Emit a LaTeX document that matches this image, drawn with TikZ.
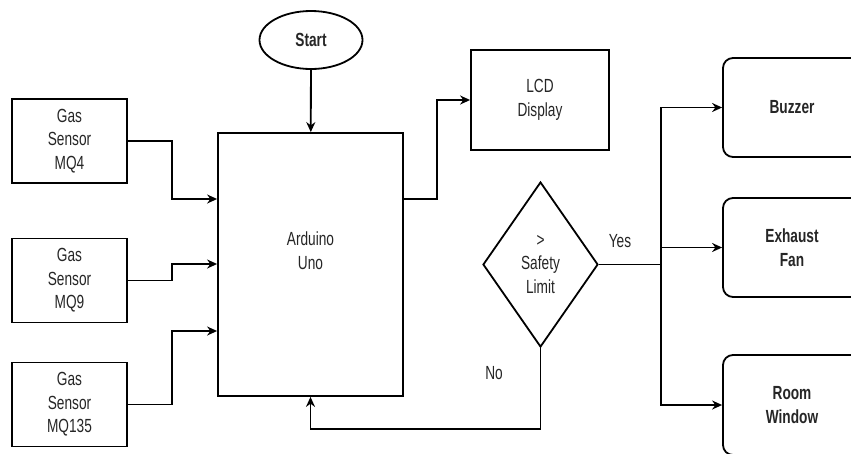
\documentclass[tikz,border=0pt]{standalone}
\usepackage{fontspec}
\setmainfont[FakeStretch=0.72]{Liberation Sans}
\usetikzlibrary{shapes.geometric,arrows.meta}
\begin{document}
\begin{tikzpicture}[x=1pt,y=-1pt,
  every node/.style={font=\fontsize{19}{23.5}\selectfont, text=black!85, align=center, inner sep=0pt},
  box/.style={draw=black, line width=1.8pt, minimum width=115pt, minimum height=84pt},
  rbox/.style={draw=black, line width=1.8pt, rounded corners=10pt, minimum width=138pt, minimum height=99pt, font=\fontsize{19}{23.5}\selectfont\bfseries},
  conn/.style={line width=1.8pt, draw=black},
  arr/.style={conn, -{Stealth[length=10pt,width=9pt]}}
]
\useasboundingbox (0,0) rectangle (851,453);
\clip (0,0) rectangle (851,453);
\fill[white] (0,0) rectangle (851,453);

\node[draw=black, line width=1.8pt, ellipse, minimum width=103pt, minimum height=58pt, font=\fontsize{19}{23.5}\selectfont\bfseries] (start) at (311,40) {Start};

\node[box] (mq4) at (69.5,141) {Gas\\Sensor\\MQ4};
\node[box] (mq9) at (69.5,280.5) {Gas\\Sensor\\MQ9};
\node[box] (mq135) at (69.5,404.5) {Gas\\Sensor\\MQ135};

\node[box, minimum width=185pt, minimum height=263pt,
  label={[yshift=14pt, align=center]center:{Arduino\\Uno}}] (ard) at (310.5,264.5) {};

\node[box, minimum width=138pt, minimum height=100pt] (lcd) at (540,100) {LCD\\Display};

\node[draw=black, line width=1.8pt, diamond, aspect=0.7, minimum width=115pt, minimum height=165pt] (dia) at (540.5,264.5) {>\\Safety\\Limit};

\node[rbox] (buz) at (792,107.5) {Buzzer};
\node[rbox] (exh) at (792,247.5) {Exhaust\\Fan};
\node[rbox, minimum height=100pt] (room) at (792,405) {Room\\Window};

\node (yes) at (620,241) {Yes};
\node (no) at (494,373) {No};

\coordinate (j1) at (172,199);
\coordinate (j2) at (172,264);
\coordinate (j3) at (172,331);
\coordinate (j4) at (437,199);
\coordinate (j5) at (540.5,429);
\coordinate (j6) at (661,264.5);

\draw[arr] (start) -- (ard);
\draw[arr] (mq4.east) -| (j1) -- (j1 -| ard.west);
\draw[arr] (mq9.east) -| (j2) -- (j2 -| ard.west);
\draw[arr] (mq135.east) -| (j3) -- (j3 -| ard.west);
\draw[arr] (j4 -| ard.east) -- (j4) |- (lcd.west);
\draw[arr] (dia.south) -- (j5) -| (ard.south);
\draw[conn] (dia.east) -- (j6);
\draw[arr] (j6) |- (buz.west);
\draw[arr] (j6) |- (exh.west);
\draw[arr] (j6) |- (room.west);
\end{tikzpicture}
\end{document}
